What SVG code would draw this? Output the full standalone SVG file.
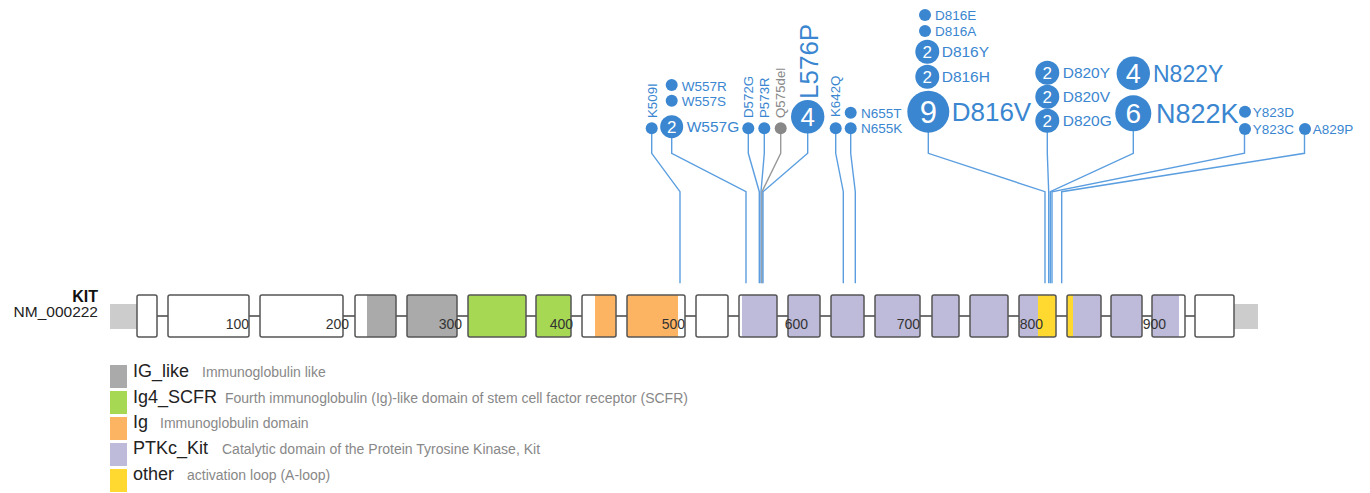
<svg xmlns="http://www.w3.org/2000/svg" width="1370" height="493" viewBox="0 0 1370 493">
<style>
text{font-family:"Liberation Sans",Arial,sans-serif}
.ex{fill:none;stroke:#555;stroke-width:1.5}
.w{fill:#fff}.g{fill:#aaaaaa}.gr{fill:#a6d854}.o{fill:#fdb462}.p{fill:#bebada}.y{fill:#ffd92f}
.utr{fill:#cccccc}
.ax{font-size:14px;fill:#333;text-anchor:end}
.c{stroke:#5b9ee0;stroke-width:1.4;fill:none}
.cg{stroke:#999;stroke-width:1.4;fill:none}
.d{fill:#3a86d0}
.dg{fill:#888}
.l{fill:#3a86d0}
.s{font-size:13.5px}
.m{font-size:15.5px}
.r{font-size:13.3px}
.n{fill:#fff;text-anchor:middle}
.lg{font-size:18px;fill:#222}
.ds{font-size:14px;fill:#888}
</style>

<g id="connectors">
<polyline class="c" points="651.7,134 651.7,153.3 680,191.7 680,283.3"/>
<polyline class="c" points="671.7,138 671.7,153.3 746,191.7 746,283.3"/>
<polyline class="c" points="748.3,134 748.3,153.3 759.3,191.7 759.3,283.3"/>
<polyline class="c" points="764.3,134 764.3,153.3 761,191.7 761,283.3"/>
<polyline class="cg" points="780.7,134 780.7,153.3 762,191.7 762,283.3"/>
<polyline class="c" points="807.7,133 807.7,153.3 763,191.7 763,283.3"/>
<polyline class="c" points="835.7,134 835.7,153.3 843.3,191.7 843.3,283.3"/>
<polyline class="c" points="850.7,134 850.7,153.3 855.3,191.7 855.3,283.3"/>
<polyline class="c" points="928.3,132 928.3,153.3 1045,191.7 1045,283.3"/>
<polyline class="c" points="1047.3,132 1047.3,153.3 1048.7,191.7 1048.7,283.3"/>
<polyline class="c" points="1133.3,131 1133.3,153.3 1050.3,191.7 1050.3,283.3"/>
<polyline class="c" points="1244.5,135 1244.5,153.3 1052,191.7 1052,283.3"/>
<polyline class="c" points="1304.5,135 1304.5,153.3 1061.7,191.7 1061.7,283.3"/>
</g>

<g id="gene">
<text x="98" y="302" font-size="16" font-weight="bold" fill="#111" text-anchor="end">KIT</text>
<text x="98" y="316.5" font-size="15.5" fill="#222" text-anchor="end">NM_000222</text>
<rect class="utr" x="110" y="304" width="27" height="25"/>
<rect class="utr" x="1234" y="304" width="24" height="25"/>
<line x1="157" y1="316" x2="1195" y2="316" stroke="#444" stroke-width="1.3"/>
</g>

<g id="exons">
<g id="e1"><rect class="w" x="137" y="295" width="20" height="42"/><rect class="ex" x="137" y="295" width="20" height="42" rx="2"/></g>
<g id="e2"><rect class="w" x="168" y="295" width="81" height="42"/><rect class="ex" x="168" y="295" width="81" height="42" rx="2"/></g>
<g id="e3"><rect class="w" x="260" y="295" width="83" height="42"/><rect class="ex" x="260" y="295" width="83" height="42" rx="2"/></g>
<g id="e4"><rect class="w" x="355" y="295" width="41" height="42"/><rect class="g" x="367" y="295" width="29" height="42"/><rect class="ex" x="355" y="295" width="41" height="42" rx="2"/></g>
<g id="e5"><rect class="g" x="407" y="295" width="50" height="42"/><rect class="ex" x="407" y="295" width="50" height="42" rx="2"/></g>
<g id="e6"><rect class="gr" x="468" y="295" width="58" height="42"/><rect class="ex" x="468" y="295" width="58" height="42" rx="2"/></g>
<g id="e7"><rect class="gr" x="536" y="295" width="35" height="42"/><rect class="ex" x="536" y="295" width="35" height="42" rx="2"/></g>
<g id="e8"><rect class="w" x="582" y="295" width="34" height="42"/><rect class="o" x="595" y="295" width="21" height="42"/><rect class="ex" x="582" y="295" width="34" height="42" rx="2"/></g>
<g id="e9"><rect class="w" x="627" y="295" width="58" height="42"/><rect class="o" x="627" y="295" width="51" height="42"/><rect class="ex" x="627" y="295" width="58" height="42" rx="2"/></g>
<g id="e10"><rect class="w" x="696" y="295" width="32" height="42"/><rect class="ex" x="696" y="295" width="32" height="42" rx="2"/></g>
<g id="e11"><rect class="w" x="739" y="295" width="38" height="42"/><rect class="p" x="742" y="295" width="35" height="42"/><rect class="ex" x="739" y="295" width="38" height="42" rx="2"/></g>
<g id="e12"><rect class="p" x="788" y="295" width="32" height="42"/><rect class="ex" x="788" y="295" width="32" height="42" rx="2"/></g>
<g id="e13"><rect class="p" x="831" y="295" width="33" height="42"/><rect class="ex" x="831" y="295" width="33" height="42" rx="2"/></g>
<g id="e14"><rect class="p" x="875" y="295" width="45" height="42"/><rect class="ex" x="875" y="295" width="45" height="42" rx="2"/></g>
<g id="e15"><rect class="p" x="932" y="295" width="27" height="42"/><rect class="ex" x="932" y="295" width="27" height="42" rx="2"/></g>
<g id="e16"><rect class="p" x="970" y="295" width="38" height="42"/><rect class="ex" x="970" y="295" width="38" height="42" rx="2"/></g>
<g id="e17"><rect class="p" x="1019" y="295" width="19" height="42"/><rect class="y" x="1038" y="295" width="18" height="42"/><rect class="ex" x="1019" y="295" width="37" height="42" rx="2"/></g>
<g id="e18"><rect class="p" x="1067" y="295" width="34" height="42"/><rect class="y" x="1067" y="295" width="6" height="42"/><rect class="ex" x="1067" y="295" width="34" height="42" rx="2"/></g>
<g id="e19"><rect class="p" x="1111" y="295" width="31" height="42"/><rect class="ex" x="1111" y="295" width="31" height="42" rx="2"/></g>
<g id="e20"><rect class="w" x="1152" y="295" width="33" height="42"/><rect class="p" x="1152" y="295" width="27" height="42"/><rect class="ex" x="1152" y="295" width="33" height="42" rx="2"/></g>
<g id="e21"><rect class="w" x="1195" y="295" width="39" height="42"/><rect class="ex" x="1195" y="295" width="39" height="42" rx="2"/></g>
</g>

<g id="axis">
<text class="ax" x="249" y="329.3">100</text>
<text class="ax" x="349" y="329.3">200</text>
<text class="ax" x="462" y="329.3">300</text>
<text class="ax" x="573" y="329.3">400</text>
<text class="ax" x="685" y="329.3">500</text>
<text class="ax" x="808" y="329.3">600</text>
<text class="ax" x="920" y="329.3">700</text>
<text class="ax" x="1043" y="329.3">800</text>
<text class="ax" x="1166" y="329.3">900</text>
</g>

<g id="mut-K509I"><circle class="d" cx="651.7" cy="128.3" r="6"/><text class="l r" transform="translate(656.5,118) rotate(-90)">K509I</text></g>
<g id="mut-W557R"><circle class="d" cx="671.7" cy="85" r="6"/><text class="l s" x="681.7" y="90.5">W557R</text></g>
<g id="mut-W557S"><circle class="d" cx="671.7" cy="100.7" r="6"/><text class="l s" x="681.7" y="106">W557S</text></g>
<g id="mut-W557G"><circle class="d" cx="671.7" cy="126.7" r="11.5"/><text class="n" x="671.7" y="132.5" font-size="17">2</text><text class="l m" x="686.7" y="132">W557G</text></g>
<g id="mut-D572G"><circle class="d" cx="748.3" cy="128.3" r="6"/><text class="l r" transform="translate(753,118) rotate(-90)">D572G</text></g>
<g id="mut-P573R"><circle class="d" cx="764.3" cy="128.3" r="6"/><text class="l r" transform="translate(769,118) rotate(-90)">P573R</text></g>
<g id="mut-Q575del"><circle class="dg" cx="780.7" cy="128.3" r="6"/><text class="r" fill="#888" transform="translate(785.4,118) rotate(-90)">Q575del</text></g>
<g id="mut-L576P"><circle class="d" cx="807.7" cy="116.7" r="16.7"/><text class="n" x="807.7" y="126" font-size="26">4</text><text class="l" font-size="26" transform="translate(817.5,99) rotate(-90)">L576P</text></g>
<g id="mut-K642Q"><circle class="d" cx="835.7" cy="128.3" r="6"/><text class="l r" transform="translate(840.4,117) rotate(-90)">K642Q</text></g>
<g id="mut-N655T"><circle class="d" cx="850.7" cy="112.7" r="6"/><text class="l s" x="861" y="117.5">N655T</text></g>
<g id="mut-N655K"><circle class="d" cx="850.7" cy="128.3" r="6"/><text class="l s" x="861" y="133">N655K</text></g>
<g id="mut-D816E"><circle class="d" cx="925" cy="15" r="6"/><text class="l s" x="935" y="19.5">D816E</text></g>
<g id="mut-D816A"><circle class="d" cx="925" cy="31" r="6"/><text class="l s" x="935" y="35.5">D816A</text></g>
<g id="mut-D816Y"><circle class="d" cx="927.3" cy="51.7" r="12"/><text class="n" x="927.3" y="57.7" font-size="17">2</text><text class="l m" x="941.7" y="57">D816Y</text></g>
<g id="mut-D816H"><circle class="d" cx="927.3" cy="76.7" r="12"/><text class="n" x="927.3" y="82.7" font-size="17">2</text><text class="l m" x="941.7" y="82">D816H</text></g>
<g id="mut-D816V"><circle class="d" cx="928.3" cy="111.7" r="21"/><text class="n" x="928.3" y="122.8" font-size="31">9</text><text class="l" font-size="26" x="951.7" y="121">D816V</text></g>
<g id="mut-D820Y"><circle class="d" cx="1047.3" cy="72.7" r="12"/><text class="n" x="1047.3" y="78.7" font-size="17">2</text><text class="l m" x="1062.7" y="78">D820Y</text></g>
<g id="mut-D820V"><circle class="d" cx="1047.3" cy="96.7" r="12"/><text class="n" x="1047.3" y="102.7" font-size="17">2</text><text class="l m" x="1062.7" y="102">D820V</text></g>
<g id="mut-D820G"><circle class="d" cx="1047.3" cy="120.7" r="12"/><text class="n" x="1047.3" y="126.7" font-size="17">2</text><text class="l m" x="1062.7" y="126">D820G</text></g>
<g id="mut-N822Y"><circle class="d" cx="1133.3" cy="73.3" r="16.7"/><text class="n" x="1133.3" y="83" font-size="27">4</text><text class="l" font-size="23" x="1153" y="81.5">N822Y</text></g>
<g id="mut-N822K"><circle class="d" cx="1133.3" cy="113.3" r="18"/><text class="n" x="1133.3" y="123.3" font-size="28">6</text><text class="l" font-size="27" x="1156" y="123">N822K</text></g>
<g id="mut-Y823D"><circle class="d" cx="1245" cy="111.7" r="6"/><text class="l s" x="1252.7" y="116.5">Y823D</text></g>
<g id="mut-Y823C"><circle class="d" cx="1245" cy="129" r="6"/><text class="l s" x="1252.7" y="134">Y823C</text></g>
<g id="mut-A829P"><circle class="d" cx="1305" cy="129" r="6"/><text class="l s" x="1312.7" y="134">A829P</text></g>

<g id="legend">
<g id="lg-IG_like"><rect class="g" x="110" y="365" width="17" height="23"/><text class="lg" x="133" y="377">IG_like</text><text class="ds" x="202" y="377">Immunoglobulin like</text></g>
<g id="lg-Ig4_SCFR"><rect class="gr" x="110" y="391" width="17" height="23"/><text class="lg" x="133" y="403">Ig4_SCFR</text><text class="ds" x="225" y="403">Fourth immunoglobulin (Ig)-like domain of stem cell factor receptor (SCFR)</text></g>
<g id="lg-Ig"><rect class="o" x="110" y="417" width="17" height="23"/><text class="lg" x="133" y="428">Ig</text><text class="ds" x="160" y="428">Immunoglobulin domain</text></g>
<g id="lg-PTKc_Kit"><rect class="p" x="110" y="443" width="17" height="23"/><text class="lg" x="133" y="454">PTKc_Kit</text><text class="ds" x="222" y="454">Catalytic domain of the Protein Tyrosine Kinase, Kit</text></g>
<g id="lg-other"><rect class="y" x="110" y="469" width="17" height="23"/><text class="lg" x="133" y="480">other</text><text class="ds" x="187" y="480">activation loop (A-loop)</text></g>
</g>
</svg>
